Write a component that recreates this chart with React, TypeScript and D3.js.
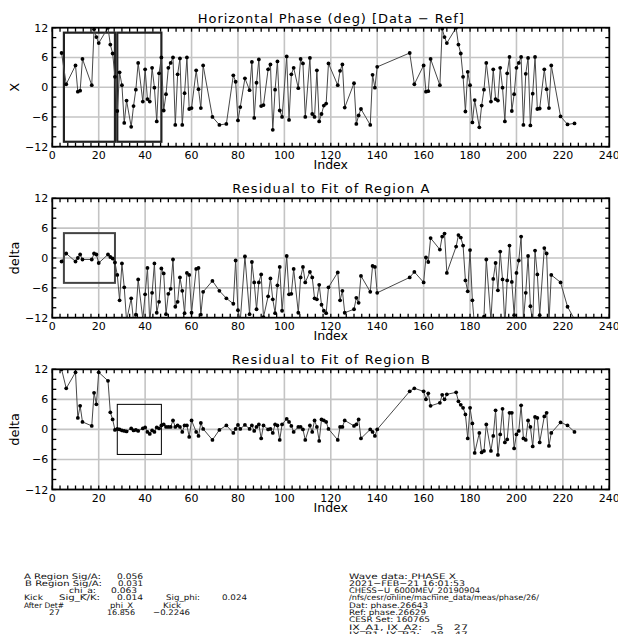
import React from 'react';
import * as d3 from 'd3';

// ---------- data ----------
const bpmIndex = [
  4, 6, 10, 11, 12, 13, 17, 18, 19, 20, 24, 25, 26, 27, 28, 29, 30, 31, 32, 34,
  35, 36, 37, 39, 40, 41, 42, 43, 44, 45, 46, 47, 48, 49, 50, 51, 52, 53, 54, 55,
  56, 57, 58, 59, 60, 62, 63, 64, 65, 69, 72, 75, 78, 79, 80, 81, 83, 85, 86, 87,
  88, 89, 90, 91, 93, 94, 95, 96, 97, 98, 99, 101, 102, 103, 104, 106, 107, 108, 109, 111,
  112, 113, 114, 115, 116, 117, 118, 119, 123, 124, 125, 126, 130, 131, 132, 133, 137, 138, 139, 140,
  154, 156, 160, 161, 162, 163, 167, 168, 169, 170, 174, 175, 176, 177, 178, 179, 180, 181, 182, 184,
  185, 186, 187, 189, 190, 191, 192, 193, 194, 195, 196, 197, 198, 199, 200, 201, 202, 203, 204, 205,
  206, 207, 208, 209, 210, 212, 213, 214, 215, 219, 222, 225,
];

const phaseX = [
  6.9, 0.6, 4.4, -0.9, -0.7, 5.7, 0.4, 11.7, 10.1, 8.9, 12.0, 8.6, 6.8, 2.1, -4.8, 3.0, 0.4, -7.2, -2.7, -8.0,
  -3.8, -0.5, 4.9, -2.9, 3.6, -2.4, -2.9, 3.9, -0.1, -6.9, 2.8, 6.0, -4.7, -1.4, 3.9, 4.9, 6.0, -7.6, 2.6, 5.8,
  -7.6, -1.2, 6.0, -4.4, -4.2, 3.4, -0.4, -4.2, 4.4, -6.0, -7.6, -7.4, 2.4, 1.1, -6.7, -4.0, 1.8, -0.6, 5.1, -6.2,
  0.9, 5.6, -3.8, -3.6, 3.6, 4.6, -8.6, -0.5, 5.2, -4.7, -6.0, 6.2, -6.6, 2.6, 3.9, -0.2, 5.7, 4.8, -6.0, 5.9,
  -5.4, -6.0, 3.4, -6.9, -5.4, -3.7, -3.3, 4.8, 0.4, 3.3, 4.6, -4.1, 0.8, -7.4, -5.7, -4.4, -7.6, 2.5, -0.1, 4.1,
  6.9, 0.6, 4.4, -0.9, -0.8, 5.7, 0.4, 11.8, 10.1, 8.9, 12.0, 8.6, 6.8, 2.1, -4.9, 3.1, 0.4, -7.1, -2.6, -8.1,
  -3.7, -0.5, 4.9, -2.9, 3.6, -2.4, -2.7, 3.9, -0.1, -6.9, 2.8, 6.1, -4.8, -1.4, 3.9, 4.9, 6.1, -7.6, 2.7, 5.9,
  -7.7, -1.3, 6.1, -4.4, -4.3, 3.6, -0.4, -4.2, 4.4, -5.9, -7.5, -7.3,
];

const residA = [
  -0.7, 0.9, -0.7, 0.0, 0.7, -0.3, -0.3, 0.9, 0.7, -1.0, 0.7, 0.2, -0.1, -0.9, -3.4, -8.5, -1.1, -5.9, -12.6, -8.1,
  -12.7, -11.4, -4.3, -12.3, -7.3, -2.0, -13.1, -7.0, -1.1, -11.0, -8.8, -2.1, -3.1, -11.3, -7.2, -6.2, -0.3, -9.8, -8.8, -3.9,
  -6.6, -11.1, -3.0, -3.4, -11.0, -2.2, -2.0, -11.4, -6.8, -4.6, -6.6, -8.1, -9.2, -0.5, -10.5, -12.6, 0.3, -11.3, -0.8, -4.9,
  -10.3, -4.9, -3.3, -11.9, -7.7, -4.1, -8.3, -11.1, -5.5, -1.8, -10.6, 0.4, -7.3, -7.2, -2.2, -11.0, -3.9, -1.8, -4.9, -2.8,
  -3.9, -8.1, -8.3, -5.4, -9.4, -10.6, -11.1, -5.9, -2.9, -8.5, -6.6, -11.0, -10.3, -8.0, -9.0, -3.6, -6.8, -1.6, -1.8, -7.0,
  -3.9, -2.8, -4.9, 0.1, -0.8, 4.0, 1.7, 4.3, 4.9, -3.0, 2.3, 4.6, 4.1, 2.5, -4.5, -6.7, 1.6, -8.5, -14.0, -13.0,
  -12.6, -11.8, -0.3, -12.5, -4.2, -1.0, -6.5, 1.3, -4.3, -13.5, -4.5, 2.5, -4.8, -11.5, -3.0, -0.5, 4.3, -12.5, -7.0, 0.4,
  -9.7, -13.0, 1.5, -3.3, -11.5, 2.0, 0.9, -13.0, -3.4, -4.9, -9.8, -12.3,
];

const residB = [
  12.0, 8.2, 11.4, 2.3, 4.7, 1.5, 0.7, 7.3, 5.0, 11.4, 9.7, 3.4, 2.0, -0.1, 0.1, 0.0, -0.2, -0.3, -0.4, 0.2,
  -0.2, -0.1, -0.3, 0.2, 0.4, -0.5, -0.9, -0.2, -0.5, 0.4, 0.2, 0.8, 1.0, 0.5, 0.5, 0.5, 1.8, 0.5, 0.8, 0.5,
  -0.5, 0.8, 0.8, -1.5, 1.8, -0.5, -1.3, 1.3, 0.1, -2.1, -0.1, 0.8, -0.7, 0.1, 0.9, 0.1, 0.9, 0.1, 0.8, -0.3,
  0.5, 1.0, -1.8, 0.8, 0.0, 0.1, -0.7, 1.0, 0.8, -2.1, 1.0, 2.1, 1.5, 0.7, -0.5, 0.5, 0.5, 0.0, -2.1, 0.8,
  -0.5, 1.8, 0.5, -2.3, 2.0, 1.8, 1.5, 0.1, -2.1, 0.5, 0.5, 1.8, 0.7, 1.0, 2.0, -1.8, 0.0, -0.5, -1.3, 0.0,
  7.6, 8.2, 7.6, 6.0, 7.2, 4.7, 5.3, 6.9, 6.0, 7.0, 7.4, 5.6, 4.9, 4.3, 3.0, -1.8, 4.3, 1.2, -4.7, -0.7,
  -4.6, -4.3, 1.0, -4.3, -1.3, 3.8, -5.1, -1.0, 4.1, -2.6, -2.0, 3.3, 3.3, -3.8, -1.0, -0.3, 4.8, -1.8, -2.1, 1.8,
  0.5, -3.4, 2.5, 2.3, -2.6, 2.6, 3.3, -3.3, -0.7, 1.4, 0.8, -0.5,
];

const xTickValues = [0, 20, 40, 60, 80, 100, 120, 140, 160, 180, 200, 220, 240];
const yTickValues = [-12, -6, 0, 6, 12];
const regionA = [5, 27];
const regionB = [28, 47];

const leftTexts = [
  ['A Region Sig/A:', '0.056'],
  ['B Region Sig/A:', '0.031'],
  ['chi_a:', '0.063'],
  ['Kick', 'Sig_K/K:', '0.014', 'Sig_phi:', '0.024'],
  ['After Det#', 'phi_X', 'Kick'],
  ['27', '16.856', '\u22120.2246'],
];
const rightTexts = [
  'Wave data: PHASE X',
  '2021\u2212FEB\u221221 16:01:53',
  'CHESS\u2212U_6000MEV_20190904',
  '/nfs/cesr/online/machine_data/meas/phase/26/',
  'Dat: phase.26643',
  'Ref: phase.26629',
  'CESR Set: 160765',
  'IX_A1, IX_A2:    5   27',
  'IX_B1, IX_B2:   28   47',
];

// ---------- layout (positions / widths of the text block) ----------
const leftLayout = [
  [{ x: 24, w: 77 }, { x: 117, w: 26 }],
  [{ x: 25, w: 77 }, { x: 118, w: 25 }],
  [{ x: 69, w: 27 }, { x: 111, w: 26 }],
  [{ x: 24, w: 19 }, { x: 59, w: 41 }, { x: 117, w: 26 }, { x: 166, w: 34 }, { x: 222, w: 25 }],
  [{ x: 24, w: 40 }, { x: 110, w: 23 }, { x: 163, w: 18 }],
  [{ x: 49, w: 11 }, { x: 107, w: 28 }, { x: 153, w: 37 }],
];
const rightWidths = [107, 116, 131, 190, 79, 77, 81, 119, 119];

const W = 618;
const H = 634;
const X0 = 52.3;
const X1 = 609.3;
const FONT = 'DejaVu Sans, sans-serif';

const panels = [
  {
    id: 'p1', top: 27.7, bottom: 146.7, title: 'Horizontal Phase (deg) [Data \u2212 Ref]', titleW: 266, ylabel: 'X', values: phaseX,
    boxes: [
      { r: regionA, h: 11, sw: 2.2, color: '#222' },
      { r: regionB, h: 11, sw: 2.2, color: '#222' },
    ],
  },
  {
    id: 'p2', top: 198.3, bottom: 317.7, title: 'Residual to Fit of Region A', titleW: 197, ylabel: 'delta', values: residA,
    boxes: [{ r: regionA, h: 5, sw: 2, color: '#444' }],
  },
  {
    id: 'p3', top: 369.3, bottom: 489.5, title: 'Residual to Fit of Region B', titleW: 198, ylabel: 'delta', values: residB,
    boxes: [{ r: regionB, h: 5, sw: 1, color: '#000' }],
  },
];

const fmt = (v: number) => (v < 0 ? '\u2212' + Math.abs(v) : String(v));

function Panel({ p }: { p: any }) {
  const x = d3.scaleLinear().domain([0, 240]).range([X0, X1]);
  const y = d3.scaleLinear().domain([-12, 12]).range([p.bottom, p.top]);
  const pts = bpmIndex.map((ix, i) => [ix, p.values[i]] as [number, number]);
  const line = d3.line<[number, number]>().x((d) => x(d[0])).y((d) => y(d[1]));
  const xMinor = d3.range(0, 240.001, 20 / 6);
  const yMinor = d3.range(-12, 12.001, 2);
  const tl = 4;
  const cx = (X0 + X1) / 2;
  return (
    <g>
      <defs>
        <clipPath id={'clip-' + p.id}>
          <rect x={X0} y={p.top} width={X1 - X0} height={p.bottom - p.top} />
        </clipPath>
      </defs>
      {xTickValues.slice(1, -1).map((v) => (
        <line key={'gx' + v} x1={x(v)} x2={x(v)} y1={p.top} y2={p.bottom} stroke="#c4c4c4" strokeWidth={1.6} />
      ))}
      {yTickValues.slice(1, -1).map((v) => (
        <line key={'gy' + v} x1={X0} x2={X1} y1={y(v)} y2={y(v)} stroke="#c4c4c4" strokeWidth={1.6} />
      ))}
      {p.boxes.map((b: any, i: number) => (
        <rect key={'b' + i} x={x(b.r[0])} y={y(b.h)} width={x(b.r[1]) - x(b.r[0])} height={y(-b.h) - y(b.h)}
          fill="none" stroke={b.color} strokeWidth={b.sw} />
      ))}
      <g clipPath={`url(#clip-${p.id})`}>
        <path d={line(pts) || ''} fill="none" stroke="#484848" strokeWidth={1} />
        {pts.filter((d) => d[1] >= -12.2 && d[1] <= 12.2).map((d, i) => (
          <circle key={i} cx={x(d[0])} cy={y(d[1])} r={1.9} fill="#000" />
        ))}
      </g>
      {xMinor.map((v, i) => (
        <g key={'tx' + i}>
          <line x1={x(v)} x2={x(v)} y1={p.bottom} y2={p.bottom - tl} stroke="#000" strokeWidth={1.3} />
          <line x1={x(v)} x2={x(v)} y1={p.top} y2={p.top + tl} stroke="#000" strokeWidth={1.3} />
        </g>
      ))}
      {yMinor.map((v, i) => (
        <g key={'ty' + i}>
          <line x1={X0} x2={X0 + tl} y1={y(v)} y2={y(v)} stroke="#000" strokeWidth={1.3} />
          <line x1={X1} x2={X1 - tl} y1={y(v)} y2={y(v)} stroke="#000" strokeWidth={1.3} />
        </g>
      ))}
      <rect x={X0} y={p.top} width={X1 - X0} height={p.bottom - p.top} fill="none" stroke="#000" strokeWidth={1.8} />
      {xTickValues.map((v) => (
        <text key={'lx' + v} x={x(v)} y={p.bottom + 12} textAnchor="middle" fontSize={11} fontFamily={FONT} fill="#000">
          {String(v)}
        </text>
      ))}
      {yTickValues.map((v) => (
        <text key={'ly' + v} x={X0 - 4} y={y(v) + 4} textAnchor="end" fontSize={11} fontFamily={FONT} fill="#000">
          {fmt(v)}
        </text>
      ))}
      <text x={cx} y={p.bottom + 22} textAnchor="middle" fontSize={12.5} fontFamily={FONT} fill="#000">Index</text>
      <text x={cx} y={p.top - 5} textAnchor="middle" fontSize={13} fontFamily={FONT} fill="#000"
        textLength={p.titleW} lengthAdjust="spacing">{p.title}</text>
      <text transform={`translate(19,${(p.top + p.bottom) / 2}) rotate(-90)`} textAnchor="middle" fontSize={13}
        fontFamily={FONT} fill="#000">{p.ylabel}</text>
    </g>
  );
}

export default function App() {
  const base = 578.5;
  const step = 7.3;
  return (
    <svg width={W} height={H} style={{ position: 'absolute', left: 0, top: 0, background: '#fff' }}>
      <rect x={0} y={0} width={W} height={H} fill="#fff" />
      {panels.map((p) => (
        <Panel key={p.id} p={p} />
      ))}
      {leftTexts.map((ln, i) =>
        ln.map((t, j) => (
          <text key={'l' + i + '-' + j} x={leftLayout[i][j].x} y={base + i * step} fontSize={7.6} fontFamily={FONT}
            fill="#111" textLength={leftLayout[i][j].w} lengthAdjust="spacingAndGlyphs">{t}</text>
        ))
      )}
      {rightTexts.map((t, i) => (
        <text key={'r' + i} x={349} y={base + i * step} fontSize={7.6} fontFamily={FONT} fill="#111"
          textLength={rightWidths[i]} lengthAdjust="spacingAndGlyphs" style={{ whiteSpace: 'pre' }}>{t}</text>
      ))}
    </svg>
  );
}
